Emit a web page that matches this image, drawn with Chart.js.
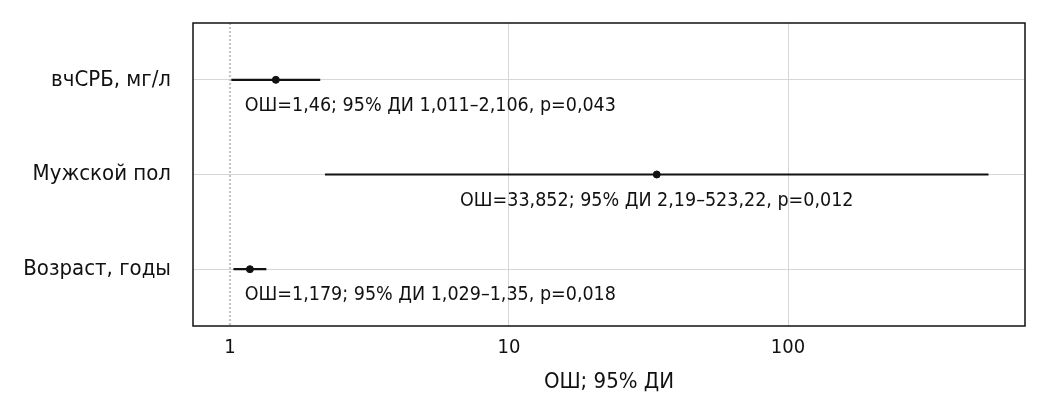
<!DOCTYPE html>
<html lang="ru">
<head>
    <meta charset="UTF-8">
    <title>Forest plot</title>
    <script src="https://cdn.jsdelivr.net/npm/chart.js"></script>
    <style>
        html, body { margin: 0; padding: 0; background: #fff; }
        .chart-box { width: 1047px; height: 412px; }
    </style>
</head>
<body>
    <div class="chart-box"><canvas id="forest"></canvas></div>

    <script>
        // Data
        const factors = ['вчСРБ, мг/л', 'Мужской пол', 'Возраст, годы'];
        const oddsRatios = [1.46, 33.852, 1.179];
        const ciLower = [1.011, 2.19, 1.029];
        const ciUpper = [2.106, 523.22, 1.35];
        const annotations = [
            'ОШ=1,46; 95% ДИ 1,011–2,106, p=0,043',
            'ОШ=33,852; 95% ДИ 2,19–523,22, p=0,012',
            'ОШ=1,179; 95% ДИ 1,029–1,35, p=0,018'
        ];
        const xTicks = [1, 10, 100];

        const FONT = '"DejaVu Sans Condensed", "Liberation Sans Narrow", sans-serif';
        const INK = '#111';

        // one line dataset per confidence interval
        const ciSets = factors.map((f, i) => ({
            type: 'line',
            data: [{ x: ciLower[i], y: i }, { x: ciUpper[i], y: i }],
            borderColor: INK,
            borderWidth: 2.2,
            pointRadius: 0
        }));

        // dotted reference line at OR = 1
        const refLine = {
            type: 'line',
            data: [{ x: 1, y: -0.6 }, { x: 1, y: 2.6 }],
            borderColor: '#c4c4c4',
            borderWidth: 2.2,
            borderDash: [2, 2],
            pointRadius: 0
        };

        const pointSet = {
            type: 'scatter',
            data: oddsRatios.map((v, i) => ({ x: v, y: i })),
            backgroundColor: INK,
            borderColor: INK,
            pointRadius: 3.5
        };

        // frame around the plot + text under each interval
        const framePlugin = {
            id: 'frame',
            afterDatasetsDraw(chart) {
                const { ctx, chartArea: a, scales } = chart;
                ctx.save();
                ctx.strokeStyle = INK;
                ctx.lineWidth = 1.5;
                ctx.strokeRect(a.left, a.top, a.right - a.left, a.bottom - a.top);

                ctx.font = '19.5px ' + FONT;
                ctx.fillStyle = INK;
                ctx.textBaseline = 'middle';
                ctx.textAlign = 'left';
                const minLeft = scales.x.getPixelForValue(1.13);
                annotations.forEach((txt, i) => {
                    const w = ctx.measureText(txt).width;
                    const cx = scales.x.getPixelForValue(oddsRatios[i]);
                    const left = Math.max(cx - w / 2, minLeft);
                    ctx.fillText(txt, left, scales.y.getPixelForValue(i) + 26);
                });
                ctx.restore();
            }
        };

        new Chart(document.getElementById('forest'), {
            type: 'scatter',
            data: { datasets: [refLine, ...ciSets, pointSet] },
            options: {
                responsive: true,
                maintainAspectRatio: false,
                animation: false,
                layout: { padding: { top: 23, right: 22, left: 0, bottom: 0 } },
                plugins: { legend: { display: false }, tooltip: { enabled: false } },
                scales: {
                    x: {
                        type: 'logarithmic',
                        bounds: 'data',
                        min: 0.737,
                        max: 707,
                        afterBuildTicks: s => { s.ticks = xTicks.map(v => ({ value: v })); },
                        afterFit: s => { s.height = 86; },
                        grid: {
                            color: ctx => ctx.tick && ctx.tick.value === 1 ? 'rgba(0,0,0,0)' : '#d6d6d6',
                            drawTicks: false
                        },
                        border: { display: false },
                        ticks: {
                            padding: 10,
                            color: INK,
                            font: { family: FONT, size: 20 },
                            callback: v => String(v)
                        },
                        title: {
                            display: true,
                            text: 'ОШ; 95% ДИ',
                            color: INK,
                            font: { family: FONT, size: 22 },
                            padding: { top: 4, bottom: 17 }
                        }
                    },
                    y: {
                        type: 'linear',
                        reverse: true,
                        min: -0.6,
                        max: 2.6,
                        afterBuildTicks: s => { s.ticks = factors.map((f, i) => ({ value: i })); },
                        afterFit: s => {
                            s.width = 193;
                            s.paddingTop = 0;
                            s.paddingBottom = 0;
                        },
                        grid: { color: '#d6d6d6', drawTicks: false },
                        border: { display: false },
                        ticks: {
                            padding: 22,
                            color: INK,
                            font: { family: FONT, size: 22 },
                            callback: v => factors[v] || ''
                        }
                    }
                }
            },
            plugins: [framePlugin]
        });
    </script>
</body>
</html>
